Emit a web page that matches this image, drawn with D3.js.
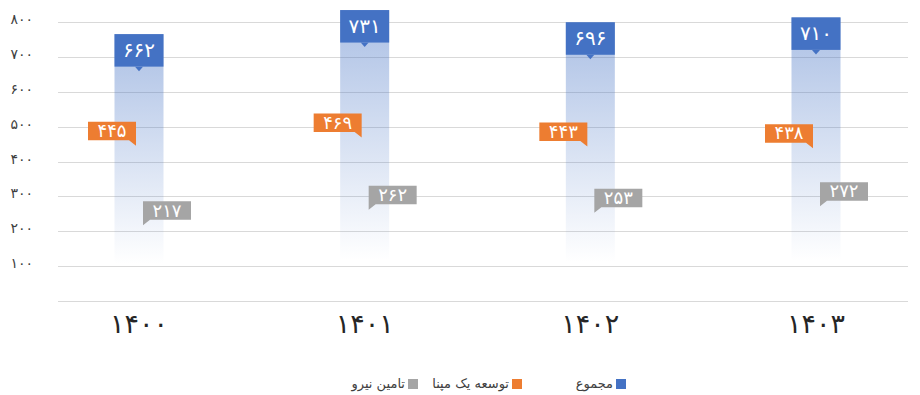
<!DOCTYPE html>
<html>
<head>
<meta charset="utf-8">
<script src="https://cdn.jsdelivr.net/npm/d3@7"></script>
<style>
  html, body { margin: 0; padding: 0; background: #fff; }
  svg { display: block; font-family: "DejaVu Sans", sans-serif; }
</style>
</head>
<body>
<svg id="chart" width="920" height="395"></svg>
<script>
// Years (Solar Hijri) and the three series
const categories = ["۱۴۰۰", "۱۴۰۱", "۱۴۰۲", "۱۴۰۳"];
const totalValues = [662, 731, 696, 710];      // مجموع
const mapnaValues = [445, 469, 443, 438];      // توسعه یک مپنا
const niroValues  = [217, 262, 253, 272];      // تامین نیرو
const yTicks = [100, 200, 300, 400, 500, 600, 700, 800];
const seriesNames = ["مجموع", "توسعه یک مپنا", "تامین نیرو"];

const colors = { total: "#4472c4", mapna: "#ed7d31", niro: "#a5a5a5" };

// Western digits -> Persian digits
const fa = n => String(n).replace(/\d/g, d => "۰۱۲۳۴۵۶۷۸۹"[+d]);

const svg = d3.select("#chart");

const x = d3.scalePoint().domain(categories).range([139, 816]);
const y = d3.scaleLinear().domain([0, 800]).range([301, 22]);

const gridLeft = 58, gridRight = 908;

// Horizontal gridlines
svg.append("g")
  .selectAll("line")
  .data([0].concat(yTicks))
  .join("line")
  .attr("x1", gridLeft).attr("x2", gridRight)
  .attr("y1", d => Math.round(y(d)) + 0.5).attr("y2", d => Math.round(y(d)) + 0.5)
  .attr("stroke", "#d9d9d9").attr("stroke-width", 1);

// Y-axis labels
svg.append("g")
  .selectAll("text")
  .data(yTicks)
  .join("text")
  .attr("x", 33)
  .attr("y", d => y(d) - 2)
  .attr("text-anchor", "end")
  .attr("dominant-baseline", "middle")
  .attr("font-size", 14)
  .attr("fill", "#404040")
  .text(d => fa(d));

// X-axis category labels
svg.append("g")
  .selectAll("text")
  .data(categories)
  .join("text")
  .attr("x", d => x(d))
  .attr("y", 333)
  .attr("text-anchor", "middle")
  .attr("font-size", 27)
  .attr("fill", "#262626")
  .text(d => d);

// Gradient fading column for the total series
const defs = svg.append("defs");
const grad = defs.append("linearGradient")
  .attr("id", "totalFade")
  .attr("x1", 0).attr("y1", 0).attr("x2", 0).attr("y2", 1);
grad.append("stop").attr("offset", 0).attr("stop-color", colors.total).attr("stop-opacity", 0.45);
grad.append("stop").attr("offset", 0.86).attr("stop-color", colors.total).attr("stop-opacity", 0);

const barW = 49, boxGap = 3.5, boxH = 32.5;
svg.append("g")
  .selectAll("rect")
  .data(categories)
  .join("rect")
  .attr("x", d => x(d) - barW / 2)
  .attr("width", barW)
  .attr("y", (d, i) => y(totalValues[i]) - boxGap - boxH)
  .attr("height", (d, i) => y(0) - y(totalValues[i]) + boxGap + boxH)
  .attr("fill", "url(#totalFade)");

// Callout: blue box sitting above the total point, pointer at bottom centre
const totalG = svg.append("g");
categories.forEach((c, i) => {
  const cx = x(c), py = y(totalValues[i]);
  const bottom = py - boxGap, h = boxH;
  totalG.append("rect")
    .attr("x", cx - barW / 2).attr("y", bottom - h)
    .attr("width", barW).attr("height", h)
    .attr("fill", colors.total);
  totalG.append("path")
    .attr("d", `M${cx - 4},${bottom} L${cx + 4},${bottom} L${cx},${bottom + 4.5} Z`)
    .attr("fill", colors.total);
  totalG.append("text")
    .attr("x", cx).attr("y", bottom - h / 2 + 1)
    .attr("text-anchor", "middle").attr("dominant-baseline", "middle")
    .attr("font-size", 20).attr("fill", "#fff")
    .text(fa(totalValues[i]));
});

// Callout: orange box to the upper-left of its point
const mapnaG = svg.append("g");
categories.forEach((c, i) => {
  const px = x(c) - 3, py = y(mapnaValues[i]);
  const w = 48, h = 18.5, bottom = py - 5.5;
  mapnaG.append("path")
    .attr("d", `M${px - w},${bottom - h} L${px},${bottom - h} L${px},${py} L${px - 7},${bottom} L${px - w},${bottom} Z`)
    .attr("fill", colors.mapna);
  mapnaG.append("text")
    .attr("x", px - w / 2).attr("y", bottom - h / 2 + 1)
    .attr("text-anchor", "middle").attr("dominant-baseline", "middle")
    .attr("font-size", 18).attr("fill", "#fff")
    .text(fa(mapnaValues[i]));
});

// Callout: grey box to the upper-right of its point
const niroG = svg.append("g");
categories.forEach((c, i) => {
  const px = x(c) + 4, py = y(niroValues[i]);
  const w = 48, h = 18.5, bottom = py - 5.5;
  niroG.append("path")
    .attr("d", `M${px},${bottom - h} L${px + w},${bottom - h} L${px + w},${bottom} L${px + 7},${bottom} L${px},${py} Z`)
    .attr("fill", colors.niro);
  niroG.append("text")
    .attr("x", px + w / 2).attr("y", bottom - h / 2 + 1)
    .attr("text-anchor", "middle").attr("dominant-baseline", "middle")
    .attr("font-size", 18).attr("fill", "#fff")
    .text(fa(niroValues[i]));
});

// Legend (right-to-left slots)
const legendColors = [colors.total, colors.mapna, colors.niro];
const legend = svg.append("g");
seriesNames.forEach((name, i) => {
  const right = 626 - i * 104;
  legend.append("rect")
    .attr("x", right - 10).attr("y", 379)
    .attr("width", 10).attr("height", 10)
    .attr("fill", legendColors[i]);
  legend.append("text")
    .attr("x", right - 13).attr("y", 384)
    .attr("text-anchor", "end").attr("dominant-baseline", "middle")
    .attr("font-size", 13).attr("fill", "#404040")
    .text(name);
});
</script>
</body>
</html>
